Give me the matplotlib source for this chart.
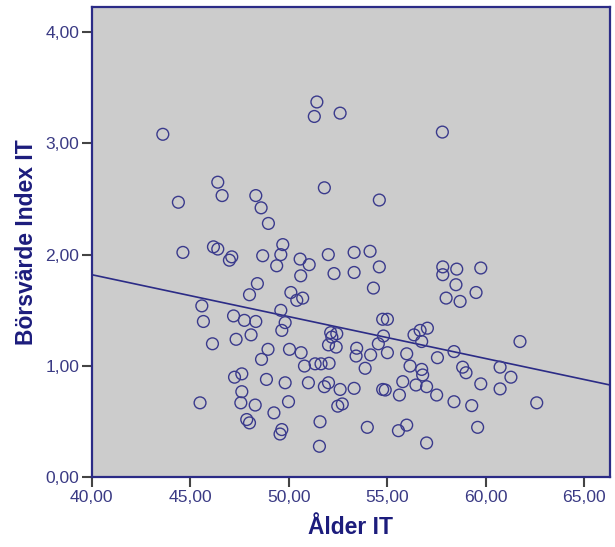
import matplotlib.pyplot as plt

# Ålder IT (x) och Börsvärde Index IT (y)
alder_it = [
    43.61, 44.40, 46.40, 46.62, 48.33, 48.60, 48.97, 51.43, 51.30, 52.61,
    57.80, 51.81, 54.60, 44.63, 46.18, 46.40, 47.11, 46.99, 48.68, 48.41,
    48.01, 45.59, 45.67, 47.20, 47.75, 48.33, 48.09, 47.33, 46.13, 48.95,
    48.62, 47.25, 47.62, 48.87, 47.62, 47.57, 48.30, 45.50, 47.87, 48.01,
    49.25, 49.70, 49.60, 49.39, 50.58, 51.04, 50.61, 52.01, 53.32, 54.13,
    54.60, 52.30, 53.32, 54.30, 50.11, 50.41, 50.71, 49.60, 49.82, 49.65,
    54.77, 55.01, 52.13, 52.44, 52.19, 52.02, 52.41, 54.81, 54.55, 55.01,
    56.36, 56.67, 57.04, 56.75, 55.99, 56.16, 56.75, 56.80, 57.55, 50.04,
    50.63, 50.80, 51.34, 51.64, 52.05, 53.45, 53.42, 54.16, 53.88, 49.82,
    51.00, 51.81, 52.02, 52.61, 53.32, 54.77, 54.90, 55.79, 56.46, 57.00,
    55.62, 57.51, 49.99, 52.49, 52.72, 49.65, 49.56, 51.59, 51.56, 53.99,
    55.57, 55.99, 57.00, 57.82, 57.82, 58.53, 59.75, 58.49, 57.99, 58.70,
    59.51, 61.74, 58.39, 58.83, 59.00, 60.73, 61.28, 59.75, 60.73, 58.39,
    59.29, 62.59, 59.59,
]
borsvarde = [
    3.08, 2.47, 2.65, 2.53, 2.53, 2.42, 2.28, 3.37, 3.24, 3.27,
    3.10, 2.60, 2.49, 2.02, 2.07, 2.05, 1.98, 1.95, 1.99, 1.74,
    1.64, 1.54, 1.40, 1.45, 1.41, 1.40, 1.28, 1.24, 1.20, 1.15,
    1.06, 0.90, 0.93, 0.88, 0.77, 0.67, 0.65, 0.67, 0.52, 0.49,
    0.58, 2.09, 2.00, 1.90, 1.96, 1.91, 1.81, 2.00, 2.02, 2.03,
    1.89, 1.83, 1.84, 1.70, 1.66, 1.59, 1.61, 1.50, 1.39, 1.32,
    1.42, 1.42, 1.30, 1.29, 1.26, 1.19, 1.17, 1.27, 1.20, 1.12,
    1.28, 1.32, 1.34, 1.22, 1.11, 1.00, 0.97, 0.92, 1.075, 1.15,
    1.12, 1.00, 1.02, 1.02, 1.025, 1.16, 1.09, 1.10, 0.98, 0.85,
    0.85, 0.815, 0.85, 0.79, 0.80, 0.79, 0.785, 0.86, 0.83, 0.815,
    0.74, 0.74, 0.68, 0.64, 0.66, 0.43, 0.39, 0.50, 0.28, 0.45,
    0.42, 0.47, 0.31, 1.89, 1.82, 1.87, 1.88, 1.73, 1.61, 1.58,
    1.66, 1.22, 1.13, 0.99, 0.94, 0.99, 0.90, 0.84, 0.795, 0.68,
    0.645, 0.67, 0.45,
]

# regressionslinjen (ändpunkter avlästa)
linje_x = [40.0, 66.31]
linje_y = [1.82, 0.83]

x_ticks = [40, 45, 50, 55, 60, 65]
y_ticks = [0, 1, 2, 3, 4]

navy = '#2b2b86'
label_col = '#3a3a84'

plt.rcParams['font.family'] = ['Liberation Sans', 'DejaVu Sans']

fig = plt.figure(figsize=(6.15, 5.47), dpi=100)
ax = fig.add_axes([0.1491, 0.1271, 0.8428, 0.8596])
ax.set_facecolor('#cccccc')

ax.scatter(alder_it, borsvarde, s=72, facecolors='none', edgecolors='#3a3a8c',
           linewidths=1.0, zorder=3)
ax.plot(linje_x, linje_y, color=navy, linewidth=1.2, zorder=2)

ax.set_xlim(40, 66.31)
ax.set_ylim(0, 4.22)
ax.set_xticks(x_ticks)
ax.set_yticks(y_ticks)
ax.set_xticklabels([f'{v:.2f}'.replace('.', ',') for v in x_ticks])
ax.set_yticklabels([f'{v:.2f}'.replace('.', ',') for v in y_ticks])

for sp in ax.spines.values():
    sp.set_color(navy)
    sp.set_linewidth(1.6)

ax.tick_params(direction='out', length=7, width=1.5, color='#444444',
               labelsize=12.6, labelcolor=label_col, pad=2)

ax.set_xlabel('Ålder IT', fontsize=16.5, fontweight='bold', color='#1c1c7c', labelpad=8)
ax.set_ylabel('Börsvärde Index IT', fontsize=16.5, fontweight='bold', color='#1c1c7c', labelpad=5)

fig.savefig('out.png', dpi=100)
